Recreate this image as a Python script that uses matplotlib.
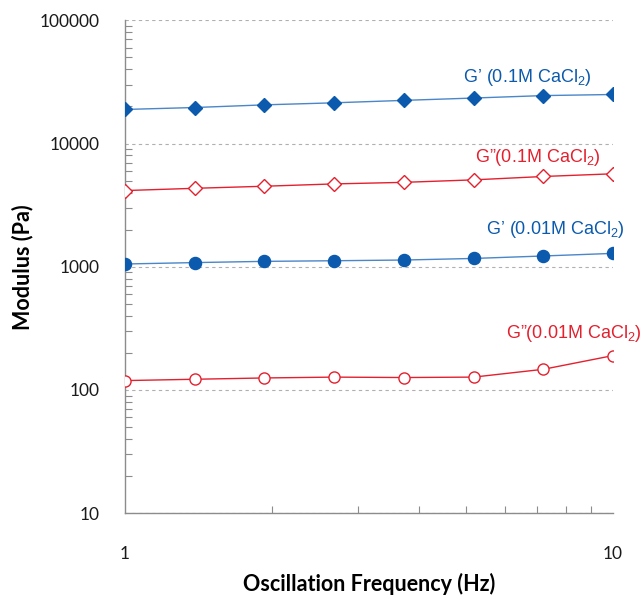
import numpy as np
import matplotlib
matplotlib.use("Agg")
import matplotlib.pyplot as plt
from matplotlib.ticker import LogLocator, NullFormatter, FixedLocator, FixedFormatter

# data
freq = [1.0, 1.39, 1.93, 2.68, 3.73, 5.18, 7.2, 10.0]
g1_01M = [18900, 19600, 20600, 21400, 22400, 23400, 24500, 25000]
g2_01M = [4150, 4330, 4500, 4700, 4840, 5070, 5400, 5680]
g1_001M = [1052, 1080, 1105, 1118, 1133, 1167, 1222, 1283]
g2_001M = [119, 122, 125, 127, 126, 127, 147, 190]

y_ticks = [10, 100, 1000, 10000, 100000]
y_ticklabels = ["10", "100", "1000", "10000", "100000"]
x_ticks = [1, 10]
x_ticklabels = ["1", "10"]

blue_mk = "#0b5aad"
blue_ln = "#4a86c8"
red = "#e4202e"

plt.rcParams["mathtext.fontset"] = "custom"
plt.rcParams["mathtext.rm"] = "Liberation Sans"
plt.rcParams["mathtext.default"] = "rm"

fig = plt.figure(figsize=(6.44, 5.98), dpi=100)
ax = fig.add_axes([0.194, 0.142, 0.758, 0.824])

ax.plot(freq, g1_01M, color=blue_ln, lw=1.0, marker="D", ms=6.8,
        mfc=blue_mk, mec=blue_mk, zorder=3)
ax.plot(freq, g2_01M, color=red, lw=1.0, marker="D", ms=6.8,
        mfc="white", mec=red, mew=1.0, zorder=3)
ax.plot(freq, g1_001M, color=blue_ln, lw=1.0, marker="o", ms=8.7,
        mfc=blue_mk, mec=blue_mk, zorder=3)
ax.plot(freq, g2_001M, color=red, lw=1.0, marker="o", ms=8,
        mfc="white", mec=red, mew=1.0, zorder=3)

ax.set_xscale("log")
ax.set_yscale("log")
ax.set_xlim(1, 10)
ax.set_ylim(10, 100000)

ax.yaxis.set_major_locator(FixedLocator(y_ticks))
ax.yaxis.set_major_formatter(FixedFormatter(y_ticklabels))
ax.yaxis.set_minor_locator(LogLocator(base=10, subs=np.arange(2, 10)))
ax.yaxis.set_minor_formatter(NullFormatter())
ax.xaxis.set_major_locator(FixedLocator(x_ticks))
ax.xaxis.set_major_formatter(FixedFormatter(x_ticklabels))
ax.xaxis.set_minor_locator(LogLocator(base=10, subs=np.arange(2, 10)))
ax.xaxis.set_minor_formatter(NullFormatter())

ax.grid(axis="y", which="major", color="#b0b0b0", ls=(0, (3, 3)), lw=0.8)
ax.set_axisbelow(True)

for s in ["top", "right"]:
    ax.spines[s].set_visible(False)
for s in ["left", "bottom"]:
    ax.spines[s].set_color("#8c8c8c")
    ax.spines[s].set_linewidth(1.0)

ax.tick_params(which="both", direction="in", color="#8c8c8c")
ax.tick_params(which="major", length=0)
ax.tick_params(which="minor", length=5, width=0.8)
ax.tick_params(axis="y", which="major", pad=18, labelsize=12.5, labelcolor="#1a1a1a")
ax.tick_params(axis="x", which="major", pad=24, labelsize=12.5, labelcolor="#1a1a1a")
for lab in ax.get_xticklabels() + ax.get_yticklabels():
    lab.set_fontfamily("Lato")

ax.set_xlabel("Oscillation Frequency (Hz)", fontsize=15.5, fontweight="bold",
              fontfamily="Lato")
ax.xaxis.set_label_coords(0.5, -0.122)
ax.set_ylabel("Modulus (Pa)", fontsize=15.5, fontweight="bold",
              fontfamily="Lato", labelpad=5)

lbl = dict(fontsize=13, fontfamily="Liberation Sans", ha="center", va="center",
           transform=fig.transFigure)
fig.text(527 / 644, 1 - 77 / 598, "G\u2019 (0.1M CaCl$_2$)", color=blue_mk, **lbl)
fig.text(538 / 644, 1 - 158 / 598, "G\u201d(0.1M CaCl$_2$)", color=red, **lbl)
fig.text(555 / 644, 1 - 230 / 598, "G\u2019 (0.01M CaCl$_2$)", color=blue_mk, **lbl)
fig.text(574 / 644, 1 - 333 / 598, "G\u201d(0.01M CaCl$_2$)", color=red, **lbl)

fig.savefig("out.png", dpi=100)
